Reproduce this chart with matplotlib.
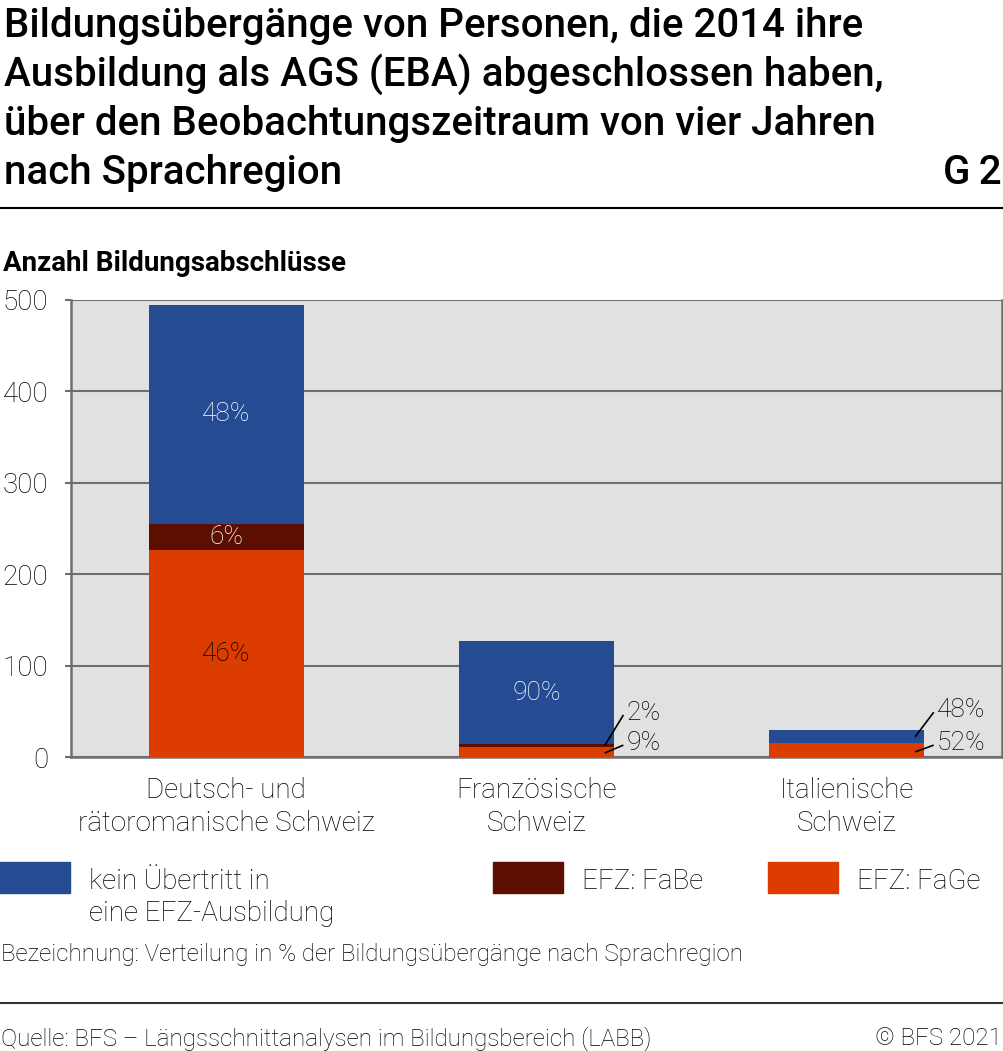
import numpy as np
import matplotlib
matplotlib.use('Agg')
from matplotlib import pyplot as plt
from matplotlib.patches import Rectangle

plt.rcParams['font.family'] = ['Roboto', 'DejaVu Sans']

# data
regions = ['Deutsch- und\nrätoromanische Schweiz', 'Französische\nSchweiz', 'Italienische\nSchweiz']
efz_fage = [226, 11, 15]
efz_fabe = [29, 3, 0]
kein_efz = [240, 113, 14]
pct_fage = ['46%', '9%', '52%']
pct_fabe = ['6%', '2%', '']
pct_kein = ['48%', '90%', '48%']

series_names = ['kein Übertritt in\neine EFZ-Ausbildung', 'EFZ: FaBe', 'EFZ: FaGe']
col_kein = '#254b93'
col_fabe = '#5c0e00'
col_fage = '#dc3c00'

W, H = 1004, 1051
fig = plt.figure(figsize=(W / 100, H / 100), dpi=100)

def fx(px):
	return px / W

def fy(py):
	return 1 - py / H

# title block
title = ['Bildungsübergänge von Personen, die 2014 ihre',
	'Ausbildung als AGS (EBA) abgeschlossen haben,',
	'über den Beobachtungszeitraum von vier Jahren',
	'nach Sprachregion']
for i, line in enumerate(title):
	fig.text(fx(4), fy(37 + 49 * i), line, fontsize=29, fontweight='medium', va='baseline', ha='left')
fig.text(fx(1002), fy(184), 'G\u20092', fontsize=29, fontweight='medium', va='baseline', ha='right')
fig.add_artist(plt.Line2D([0, 1], [fy(208), fy(208)], color='black', lw=1.5))

fig.text(fx(3), fy(271), 'Anzahl Bildungsabschlüsse', fontsize=20, fontweight='bold', va='baseline', ha='left')

# chart area
ax = fig.add_axes([fx(71), fy(757), fx(1002) - fx(71), (757 - 300) / H])
ax.set_facecolor('#e1e1e1')
x = np.arange(len(regions))
w = 0.5
b1 = np.array(efz_fage)
b2 = b1 + np.array(efz_fabe)
ax.bar(x, efz_fage, w, color=col_fage, zorder=3)
ax.bar(x, efz_fabe, w, bottom=b1, color=col_fabe, zorder=3)
ax.bar(x, kein_efz, w, bottom=b2, color=col_kein, zorder=3)

ax.set_xlim(-0.5, 2.5)
ax.set_ylim(0, 500)
ax.set_yticks([0, 100, 200, 300, 400, 500])
ax.yaxis.grid(True, color='#6e6e6e', lw=1.5, zorder=1)
ax.set_xticks(x)
ax.set_xticklabels(regions, fontsize=20, fontweight='light', linespacing=1.3)
for lab in ax.get_yticklabels():
	lab.set_fontsize(20)
	lab.set_fontweight('light')
ax.tick_params(axis='y', length=4, width=1.5, color='#6e6e6e', pad=12.5)
ax.tick_params(axis='x', length=0, pad=14.5)
for s in ['left', 'bottom', 'right']:
	ax.spines[s].set_color('#6e6e6e')
	ax.spines[s].set_linewidth(1.8)
ax.spines['top'].set_visible(False)

# labels inside the big segments
lab_font = dict(fontsize=19, fontweight='light', zorder=5)
ax.text(x[0], b1[0] / 2, pct_fage[0], ha='center', va='center', color='black', **lab_font)
ax.text(x[0], (b1[0] + b2[0]) / 2, pct_fabe[0], ha='center', va='center', color='white', **lab_font)
for i in [0, 1]:
	ax.text(x[i], b2[i] + kein_efz[i] / 2, pct_kein[i], ha='center', va='center', color='white', **lab_font)

# small segments: labels beside the bar with leader lines
outside = [
	(1, (b1[1] + b2[1]) / 2, 48, pct_fabe[1]),
	(1, b1[1] * 0.4, 15, pct_fage[1]),
	(2, b2[2] + kein_efz[2] / 2, 51, pct_kein[2]),
	(2, b1[2] * 0.37, 15, pct_fage[2]),
]
for xi, y0, ytxt, lab in outside:
	ax.plot([x[xi] + 0.22, x[xi] + 0.28], [y0, ytxt - 2], color='black', lw=1.2, zorder=5, solid_capstyle='butt')
	ax.text(x[xi] + 0.29, ytxt, lab, ha='left', va='center', color='black', **lab_font)

# legend
leg_x = [0, 493, 768]
leg_cols = [col_kein, col_fabe, col_fage]
for lx, c, name in zip(leg_x, leg_cols, series_names):
	fig.add_artist(Rectangle((fx(lx), fy(893)), 70 / W, 31 / H, color=c, transform=fig.transFigure))
	fig.text(fx(lx + 89), fy(868), name, fontsize=20, fontweight='light', va='top', ha='left', linespacing=1.25)

fig.text(fx(1), fy(961), 'Bezeichnung: Verteilung in % der Bildungsübergänge nach Sprachregion', fontsize=17.4, fontweight='light', va='baseline', ha='left')
fig.add_artist(plt.Line2D([0, 1], [fy(1003), fy(1003)], color='#333333', lw=1.5))
fig.text(fx(1), fy(1045), 'Quelle: BFS – Längsschnittanalysen im Bildungsbereich (LABB)', fontsize=17.4, fontweight='light', va='baseline', ha='left')
fig.text(fx(1002), fy(1045), '© BFS 2021', fontsize=17.4, fontweight='light', va='baseline', ha='right')

fig.savefig('out.png', dpi=100)
